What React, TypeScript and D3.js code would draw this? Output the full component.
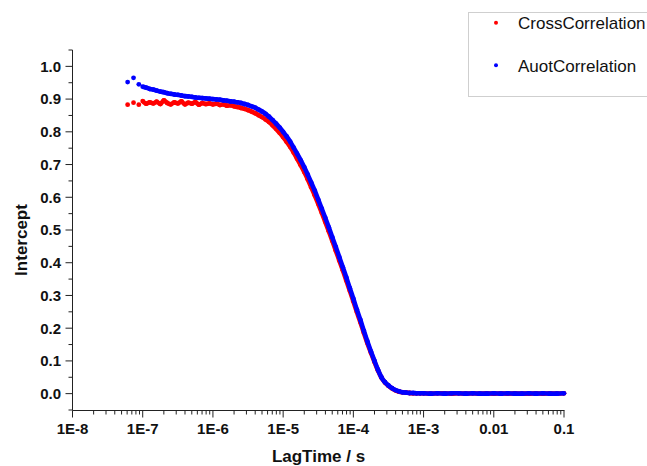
import React from "react";
import * as d3 from "d3";

// Lag times (s) shared by both correlation curves
const lagTime: number[] = [
  6.1e-8, 7.4e-8, 8.8e-8,
  1.0e-7, 1.12e-7, 1.26e-7, 1.41e-7, 1.58e-7, 1.78e-7, 2.0e-7, 2.24e-7, 2.51e-7, 2.82e-7,
  3.16e-7, 3.55e-7, 3.98e-7, 4.47e-7, 5.01e-7, 5.62e-7, 6.31e-7, 7.08e-7, 7.94e-7, 8.91e-7,
  1.0e-6, 1.12e-6, 1.26e-6, 1.41e-6, 1.58e-6, 1.78e-6, 2.0e-6, 2.24e-6, 2.51e-6, 2.82e-6,
  3.16e-6, 3.55e-6, 3.98e-6, 4.47e-6, 5.01e-6, 5.62e-6, 6.31e-6, 7.08e-6, 7.94e-6, 8.91e-6,
  1.0e-5, 1.12e-5, 1.26e-5, 1.41e-5, 1.58e-5, 1.78e-5, 2.0e-5, 2.24e-5, 2.51e-5, 2.82e-5,
  3.16e-5, 3.55e-5, 3.98e-5, 4.47e-5, 5.01e-5, 5.62e-5, 6.31e-5, 7.08e-5, 7.94e-5, 8.91e-5,
  1.0e-4, 1.12e-4, 1.26e-4, 1.41e-4, 1.58e-4, 1.78e-4, 2.0e-4, 2.24e-4, 2.51e-4, 2.82e-4,
  3.16e-4, 3.55e-4, 3.98e-4, 4.47e-4, 5.01e-4, 5.62e-4, 6.31e-4, 7.08e-4, 7.94e-4, 8.91e-4,
  1.0e-3, 1.26e-3, 1.58e-3, 2.0e-3, 2.51e-3, 3.16e-3, 3.98e-3, 5.01e-3, 6.31e-3, 7.94e-3,
  1.0e-2, 1.26e-2, 1.58e-2, 2.0e-2, 2.51e-2, 3.16e-2, 3.98e-2, 5.01e-2, 6.31e-2, 7.94e-2,
  1.0e-1,
];

// CrossCorrelation (red)
const crossValues: number[] = [
  0.883, 0.889, 0.883,
  0.894, 0.886, 0.890, 0.887, 0.892, 0.885, 0.896, 0.888, 0.884, 0.890,
  0.887, 0.893, 0.884, 0.889, 0.886, 0.891, 0.883, 0.888, 0.885, 0.887,
  0.884, 0.886, 0.882, 0.884, 0.880, 0.881, 0.878, 0.876, 0.873, 0.870,
  0.866, 0.862, 0.857, 0.851, 0.845, 0.838, 0.830, 0.820, 0.809, 0.797,
  0.784, 0.770, 0.754, 0.737, 0.718, 0.698, 0.677, 0.655, 0.631, 0.606,
  0.580, 0.553, 0.525, 0.496, 0.467, 0.437, 0.407, 0.377, 0.346, 0.314,
  0.282, 0.250, 0.218, 0.186, 0.155, 0.125, 0.097, 0.071, 0.049, 0.034,
  0.024, 0.016, 0.010, 0.006, 0.004, 0.003, 0.002, 0.001, 0.001, 0.001,
  0.001, 0.000, 0.001, 0.001, 0.000, 0.001, 0.000, 0.001, 0.000, 0.001,
  0.000, 0.001, 0.000, 0.001, 0.000, 0.000, 0.001, 0.000, 0.001, 0.000,
  0.001,
];

// AuotCorrelation (blue)
const autoValues: number[] = [
  0.952, 0.965, 0.945,
  0.938, 0.935, 0.931, 0.929, 0.926, 0.923, 0.921, 0.918, 0.916, 0.914,
  0.913, 0.911, 0.909, 0.908, 0.907, 0.905, 0.904, 0.903, 0.902, 0.901,
  0.900, 0.899, 0.898, 0.896, 0.895, 0.893, 0.892, 0.890, 0.888, 0.885,
  0.882, 0.878, 0.874, 0.868, 0.862, 0.855, 0.846, 0.836, 0.825, 0.813,
  0.800, 0.786, 0.770, 0.752, 0.733, 0.713, 0.692, 0.669, 0.645, 0.620,
  0.593, 0.565, 0.537, 0.508, 0.478, 0.448, 0.417, 0.386, 0.355, 0.322,
  0.290, 0.257, 0.225, 0.192, 0.160, 0.129, 0.100, 0.073, 0.050, 0.035,
  0.025, 0.017, 0.011, 0.007, 0.004, 0.003, 0.002, 0.002, 0.001, 0.001,
  0.001, 0.000, 0.001, 0.000, 0.001, 0.001, 0.000, 0.001, 0.000, 0.000,
  0.001, 0.000, 0.001, 0.000, 0.000, 0.001, 0.000, 0.001, 0.000, 0.000,
  0.001,
];

const xTickValues = [1e-8, 1e-7, 1e-6, 1e-5, 1e-4, 1e-3, 1e-2, 1e-1];
const xTickLabels = ["1E-8", "1E-7", "1E-6", "1E-5", "1E-4", "1E-3", "0.01", "0.1"];
const yTickValues = [0, 0.1, 0.2, 0.3, 0.4, 0.5, 0.6, 0.7, 0.8, 0.9, 1.0];
const yTickLabels = ["0.0", "0.1", "0.2", "0.3", "0.4", "0.5", "0.6", "0.7", "0.8", "0.9", "1.0"];

const seriesNames = ["CrossCorrelation", "AuotCorrelation"];
const seriesColors = ["#ff0000", "#0000ff"];

const W = 647;
const H = 466;
const FONT = "'Liberation Sans', Arial, sans-serif";
const AXIS = "#222";

export default function App() {
  const x = d3.scaleLog().domain([1e-8, 0.1]).range([72.5, 564]);
  const y = d3.scaleLinear().domain([-0.05, 1.05]).range([410, 50]);

  const xMinor = x.ticks().filter((t) => !xTickValues.some((m) => Math.abs(m - t) / m < 1e-6));
  const yMinor = y.ticks(22).filter((t) => !yTickValues.some((m) => Math.abs(m - t) < 1e-6));

  const series = [crossValues, autoValues];
  const idx = d3.range(3, lagTime.length);
  const line = (vals: number[]) =>
    d3
      .line<number>()
      .x((i) => x(lagTime[i]))
      .y((i) => y(vals[i]))
      .curve(d3.curveMonotoneX)(idx) || "";

  const x0 = 72.5;
  const y0 = 410.5;

  return (
    <div style={{ position: "fixed", left: 0, top: 0 }}>
      <svg width={W} height={H} style={{ display: "block", background: "#fff" }}>
        <rect x={0} y={0} width={W} height={H} fill="#fff" />
        {/* data */}
        {series.map((vals, s) => (
          <g key={s}>
            <path d={line(vals)} fill="none" stroke={seriesColors[s]} strokeWidth={4.6} strokeLinejoin="round" />
            {lagTime.map((t, i) => (
              <circle key={i} cx={x(t)} cy={y(vals[i])} r={2.4} fill={seriesColors[s]} />
            ))}
          </g>
        ))}

        {/* axes */}
        <line x1={x0} x2={x0} y1={50} y2={y0} stroke={AXIS} strokeWidth={1} />
        <line x1={x0} x2={564.5} y1={y0} y2={y0} stroke={AXIS} strokeWidth={1} />
        {yTickValues.map((v, i) => (
          <g key={"yt" + i}>
            <line x1={x0 - 7} x2={x0} y1={y(v)} y2={y(v)} stroke={AXIS} strokeWidth={1} />
            <text
              x={61}
              y={y(v)}
              dy="0.36em"
              textAnchor="end"
              fontFamily={FONT}
              fontWeight="bold"
              fontSize={15}
              fill="#111"
            >
              {yTickLabels[i]}
            </text>
          </g>
        ))}
        {yMinor.map((v, i) => (
          <line key={"ym" + i} x1={x0 - 4} x2={x0} y1={y(v)} y2={y(v)} stroke={AXIS} strokeWidth={1} />
        ))}
        {xTickValues.map((v, i) => (
          <g key={"xt" + i}>
            <line x1={x(v)} x2={x(v)} y1={y0} y2={y0 + 7} stroke={AXIS} strokeWidth={1} />
            <text
              x={x(v)}
              y={434}
              textAnchor="middle"
              fontFamily={FONT}
              fontWeight="bold"
              fontSize={15}
              fill="#111"
            >
              {xTickLabels[i]}
            </text>
          </g>
        ))}
        {xMinor.map((v, i) => (
          <line key={"xm" + i} x1={x(v)} x2={x(v)} y1={y0} y2={y0 + 4} stroke={AXIS} strokeWidth={1} />
        ))}

        {/* axis titles */}
        <text x={318.5} y={462} textAnchor="middle" fontFamily={FONT} fontWeight="bold" fontSize={17} fill="#111">
          LagTime / s
        </text>
        <text
          transform="translate(26.5,240) rotate(-90)"
          textAnchor="middle"
          fontFamily={FONT}
          fontWeight="bold"
          fontSize={17}
          fill="#111"
        >
          Intercept
        </text>

        {/* legend */}
        <rect x={468.5} y={12.5} width={200} height={84} fill="#fff" stroke="#cfcfcf" strokeWidth={1} />
        {seriesNames.map((name, i) => (
          <g key={"lg" + i}>
            <circle cx={496} cy={22.7 + i * 42.5} r={2} fill={seriesColors[i]} />
            <text x={518} y={29 + i * 42.5} fontFamily={FONT} fontSize={17} fill="#111">
              {name}
            </text>
          </g>
        ))}
      </svg>
    </div>
  );
}
